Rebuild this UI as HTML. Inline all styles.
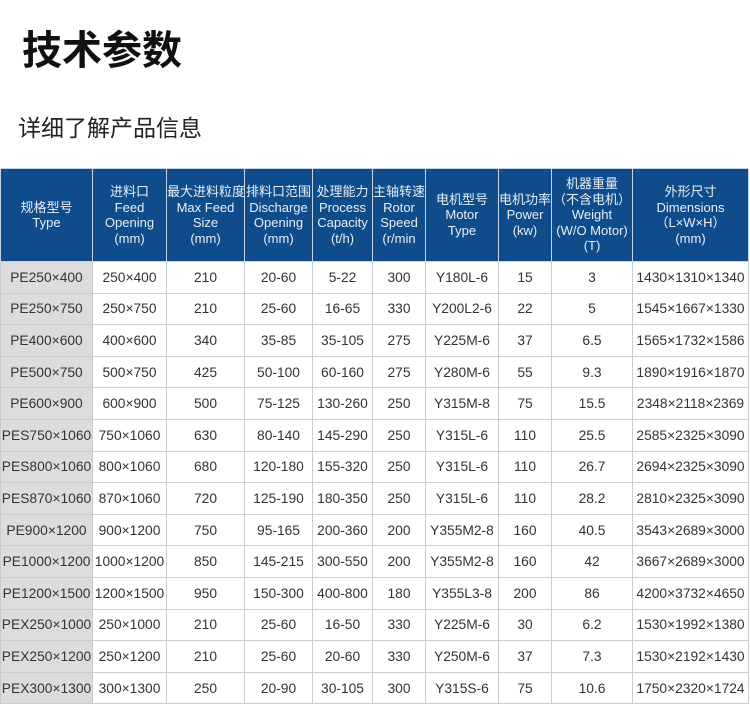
<!DOCTYPE html>
<html><head><meta charset="utf-8"><style>
body{margin:0;width:750px;height:703px;background:#fff;overflow:hidden;position:relative;font-family:"Liberation Sans","Noto Sans CJK SC",sans-serif;}
h1{position:absolute;left:22px;top:18px;margin:0;font-size:40px;font-weight:bold;color:#111;font-family:"Noto Sans CJK SC",sans-serif;}
.sub{position:absolute;left:18px;top:109px;font-size:23px;color:#222;font-family:"Noto Sans CJK SC",sans-serif;}
table{position:absolute;left:0;top:168px;border-collapse:collapse;table-layout:fixed;width:748px;}
td,th{border:1px solid #c9cdd3;text-align:center;padding:0;font-size:13.8px;color:#333;white-space:nowrap;overflow:hidden;}
th{background:#0f4c8c;color:#e8eef6;font-weight:normal;font-size:13px;line-height:15.5px;height:92px;border-color:#c9d3df;}
td{height:30.6px;background:#fff;}
td:first-child{background:#dcdcdc;}
</style></head><body>
<h1>技术参数</h1>
<div class="sub">详细了解产品信息</div>
<table>
<colgroup><col style="width:92px"><col style="width:74px"><col style="width:78px"><col style="width:68px"><col style="width:60px"><col style="width:53px"><col style="width:73px"><col style="width:53px"><col style="width:81px"><col style="width:116px"></colgroup>
<tr><th>规格型号<br>Type</th><th>进料口<br>Feed<br>Opening<br>(mm)</th><th>最大进料粒度<br>Max Feed<br>Size<br>(mm)</th><th>排料口范围<br>Discharge<br>Opening<br>(mm)</th><th>处理能力<br>Process<br>Capacity<br>(t/h)</th><th>主轴转速<br>Rotor<br>Speed<br>(r/min</th><th>电机型号<br>Motor<br>Type</th><th>电机功率<br>Power<br>(kw)</th><th>机器重量<br>（不含电机）<br>Weight<br>(W/O Motor)<br>(T)</th><th>外形尺寸<br>Dimensions<br>（L×W×H）<br>(mm)</th></tr>
<tr><td>PE250×400</td><td>250×400</td><td>210</td><td>20-60</td><td>5-22</td><td>300</td><td>Y180L-6</td><td>15</td><td>3</td><td>1430×1310×1340</td></tr>
<tr><td>PE250×750</td><td>250×750</td><td>210</td><td>25-60</td><td>16-65</td><td>330</td><td>Y200L2-6</td><td>22</td><td>5</td><td>1545×1667×1330</td></tr>
<tr><td>PE400×600</td><td>400×600</td><td>340</td><td>35-85</td><td>35-105</td><td>275</td><td>Y225M-6</td><td>37</td><td>6.5</td><td>1565×1732×1586</td></tr>
<tr><td>PE500×750</td><td>500×750</td><td>425</td><td>50-100</td><td>60-160</td><td>275</td><td>Y280M-6</td><td>55</td><td>9.3</td><td>1890×1916×1870</td></tr>
<tr><td>PE600×900</td><td>600×900</td><td>500</td><td>75-125</td><td>130-260</td><td>250</td><td>Y315M-8</td><td>75</td><td>15.5</td><td>2348×2118×2369</td></tr>
<tr><td>PES750×1060</td><td>750×1060</td><td>630</td><td>80-140</td><td>145-290</td><td>250</td><td>Y315L-6</td><td>110</td><td>25.5</td><td>2585×2325×3090</td></tr>
<tr><td>PES800×1060</td><td>800×1060</td><td>680</td><td>120-180</td><td>155-320</td><td>250</td><td>Y315L-6</td><td>110</td><td>26.7</td><td>2694×2325×3090</td></tr>
<tr><td>PES870×1060</td><td>870×1060</td><td>720</td><td>125-190</td><td>180-350</td><td>250</td><td>Y315L-6</td><td>110</td><td>28.2</td><td>2810×2325×3090</td></tr>
<tr><td>PE900×1200</td><td>900×1200</td><td>750</td><td>95-165</td><td>200-360</td><td>200</td><td>Y355M2-8</td><td>160</td><td>40.5</td><td>3543×2689×3000</td></tr>
<tr><td>PE1000×1200</td><td>1000×1200</td><td>850</td><td>145-215</td><td>300-550</td><td>200</td><td>Y355M2-8</td><td>160</td><td>42</td><td>3667×2689×3000</td></tr>
<tr><td>PE1200×1500</td><td>1200×1500</td><td>950</td><td>150-300</td><td>400-800</td><td>180</td><td>Y355L3-8</td><td>200</td><td>86</td><td>4200×3732×4650</td></tr>
<tr><td>PEX250×1000</td><td>250×1000</td><td>210</td><td>25-60</td><td>16-50</td><td>330</td><td>Y225M-6</td><td>30</td><td>6.2</td><td>1530×1992×1380</td></tr>
<tr><td>PEX250×1200</td><td>250×1200</td><td>210</td><td>25-60</td><td>20-60</td><td>330</td><td>Y250M-6</td><td>37</td><td>7.3</td><td>1530×2192×1430</td></tr>
<tr><td>PEX300×1300</td><td>300×1300</td><td>250</td><td>20-90</td><td>30-105</td><td>300</td><td>Y315S-6</td><td>75</td><td>10.6</td><td>1750×2320×1724</td></tr>
</table>
</body></html>
